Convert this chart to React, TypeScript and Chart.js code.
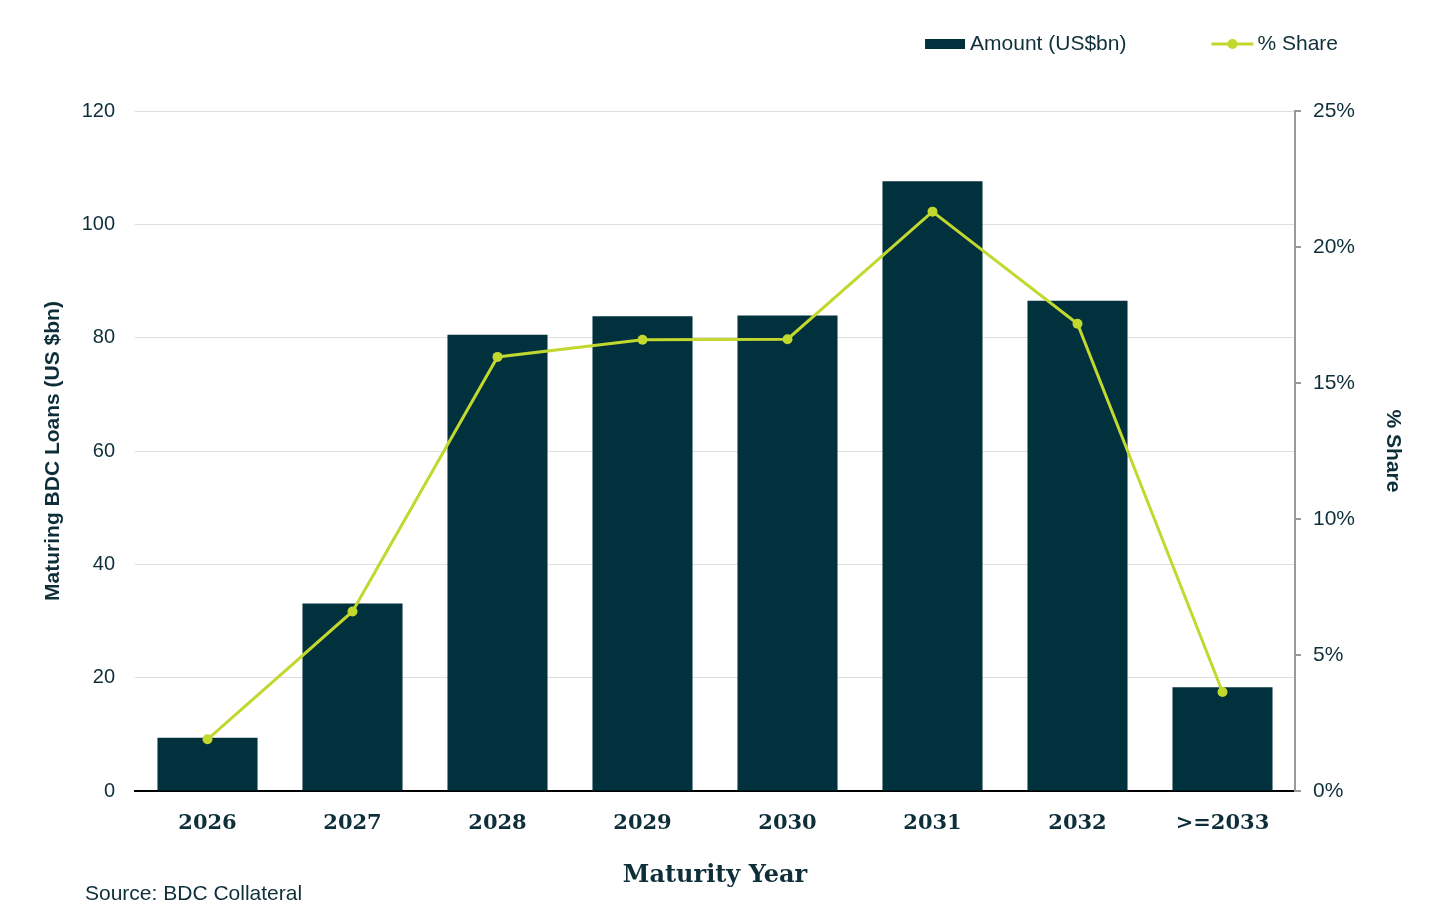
import React, { useEffect, useRef } from "react";
import { Chart, registerables } from "chart.js";

Chart.register(...registerables);

const categories = ["2026", "2027", "2028", "2029", "2030", "2031", "2032", ">=2033"];
const amountValues = [9.4, 33.1, 80.5, 83.8, 83.9, 107.6, 86.5, 18.3];
const shareValues = [1.9, 6.6, 15.96, 16.59, 16.61, 21.3, 17.18, 3.64];
const leftTicksMax = 120;
const rightTicksMax = 25;

const TEXT = "#0e2f3a";
const BAR = "#01313d";
const LIME = "#c3d82e";
const SANS = "'Liberation Sans', Arial, sans-serif";
const SERIF = "'DejaVu Serif', Georgia, serif";

const legendPlugin = {
  id: "customLegend",
  afterDraw(chart: any) {
    const { ctx, chartArea } = chart;
    const ds = chart.data.datasets;
    const y = chartArea.top - 67;
    ctx.save();
    ctx.font = `21px ${SANS}`;
    ctx.fillStyle = TEXT;
    ctx.textBaseline = "middle";
    ctx.textAlign = "left";
    const rightEnd = chartArea.right + 43;
    const t2 = ds[1].label;
    const w2 = ctx.measureText(t2).width;
    const t2x = rightEnd - w2;
    const lx1 = t2x - 46;
    const lx2 = t2x - 4;
    ctx.strokeStyle = LIME;
    ctx.lineWidth = 3;
    ctx.beginPath();
    ctx.moveTo(lx1, y);
    ctx.lineTo(lx2, y);
    ctx.stroke();
    ctx.fillStyle = LIME;
    ctx.beginPath();
    ctx.arc((lx1 + lx2) / 2, y, 5, 0, Math.PI * 2);
    ctx.fill();
    ctx.fillStyle = TEXT;
    ctx.fillText(t2, t2x, y);
    const t1 = ds[0].label;
    const w1 = ctx.measureText(t1).width;
    const t1x = lx1 - 85 - w1;
    ctx.fillStyle = BAR;
    ctx.fillRect(t1x - 45, y - 5, 40, 10);
    ctx.fillStyle = TEXT;
    ctx.fillText(t1, t1x, y);
    ctx.restore();
  },
};

export default function App() {
  const ref = useRef<HTMLCanvasElement | null>(null);

  useEffect(() => {
    if (!ref.current) return;
    const chart = new Chart(ref.current, {
      type: "bar",
      data: {
        labels: categories,
        datasets: [
          {
            type: "bar",
            label: "Amount (US$bn)",
            data: amountValues,
            backgroundColor: BAR,
            yAxisID: "y",
            barPercentage: 0.69,
            categoryPercentage: 1.0,
            order: 1,
          } as any,
          {
            type: "line",
            label: "% Share",
            data: shareValues,
            borderColor: LIME,
            backgroundColor: LIME,
            borderWidth: 3,
            pointRadius: 5,
            pointBorderWidth: 0,
            pointBackgroundColor: LIME,
            tension: 0,
            yAxisID: "y1",
            order: 0,
          } as any,
        ],
      },
      options: {
        animation: false,
        responsive: true,
        maintainAspectRatio: false,
        layout: { padding: { top: 111, left: 0, right: 0, bottom: 0 } },
        plugins: {
          legend: { display: false },
          tooltip: { enabled: false },
        },
        scales: {
          x: {
            grid: { display: false },
            border: { display: true, color: "#000000", width: 2 },
            ticks: {
              color: TEXT,
              padding: 12,
              font: { family: SERIF, weight: "bold", size: 21 },
            },
            title: {
              display: true,
              text: "Maturity Year",
              color: TEXT,
              font: { family: SERIF, weight: "bold", size: 24 },
              padding: { top: 0, bottom: 31 },
            },
            afterFit: (s: any) => {
              s.height = 130;
            },
          },
          y: {
            position: "left",
            min: 0,
            max: leftTicksMax,
            grid: { color: "#dedede", lineWidth: 1, drawTicks: false },
            border: { display: false },
            ticks: {
              stepSize: 20,
              color: TEXT,
              padding: 20,
              font: { family: SANS, size: 20 },
            },
            title: {
              display: true,
              text: "Maturing BDC Loans (US $bn)",
              color: TEXT,
              font: { family: SANS, weight: "bold", size: 21 },
              padding: { top: 41, bottom: 0 },
            },
            afterFit: (s: any) => {
              s.width = 135;
            },
          },
          y1: {
            position: "right",
            min: 0,
            max: rightTicksMax,
            grid: {
              drawOnChartArea: false,
              color: "#9a9a9a",
              lineWidth: 2,
              tickLength: 6,
            },
            border: { display: true, color: "#9a9a9a", width: 2 },
            ticks: {
              stepSize: 5,
              color: TEXT,
              padding: 12,
              font: { family: SANS, size: 21 },
              callback: (v: any) => `${v}%`,
            },
            title: {
              display: true,
              text: "% Share",
              color: TEXT,
              font: { family: SANS, weight: "bold", size: 21 },
              padding: { top: 35, bottom: 0 },
            },
            afterFit: (s: any) => {
              s.width = 145;
            },
          },
        },
      } as any,
      plugins: [legendPlugin],
    });
    return () => chart.destroy();
  }, []);

  return (
    <div
      style={{
        position: "absolute",
        left: 0,
        top: 0,
        width: 1440,
        height: 921,
        background: "#ffffff",
      }}
    >
      <canvas ref={ref} />
      <div
        style={{
          position: "absolute",
          left: 85,
          top: 881,
          fontFamily: SANS,
          fontSize: 21,
          lineHeight: "24px",
          color: TEXT,
          whiteSpace: "nowrap",
        }}
      >
        Source: BDC Collateral
      </div>
    </div>
  );
}
